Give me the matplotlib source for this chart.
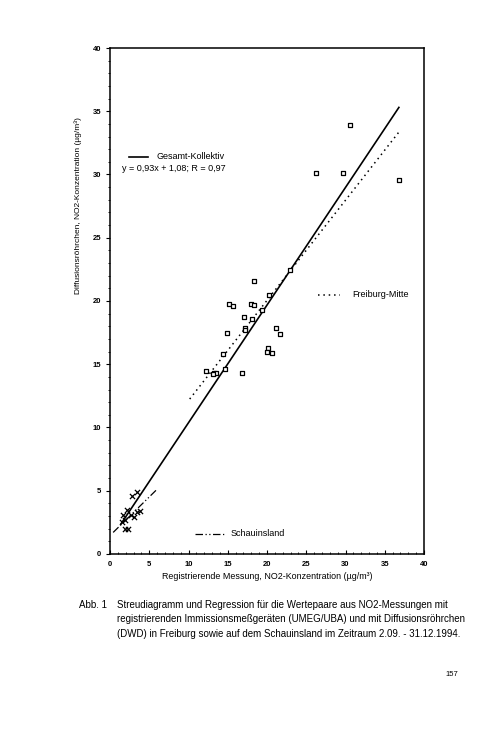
import numpy as np
import matplotlib
matplotlib.use("Agg")
import matplotlib.pyplot as plt
from matplotlib.ticker import MultipleLocator

plt.rcParams['font.family'] = ['Liberation Sans', 'DejaVu Sans']

# Freiburg-Mitte (squares)
fr_x = [15.2, 15.7, 18.0, 18.3, 20.2, 19.3, 17.1, 18.1, 17.2, 17.2, 14.9, 21.1, 21.7,
        20.1, 20.0, 20.6, 14.4, 12.2, 14.6, 13.2, 13.5, 13.1, 16.8, 18.4, 22.9,
        26.2, 29.7, 30.6, 36.8]
fr_y = [19.8, 19.6, 19.8, 19.7, 20.5, 19.3, 18.7, 18.6, 17.9, 17.7, 17.5, 17.9, 17.4,
        16.3, 16.0, 15.9, 15.8, 14.5, 14.6, 14.3, 14.3, 14.2, 14.3, 21.6, 22.45,
        30.1, 30.1, 33.9, 29.55]

# Schauinsland (crosses)
sch_x = [2.8, 3.5, 2.2, 1.65, 1.9, 1.5, 3.1, 3.8, 3.5, 1.9, 2.3, 2.7]
sch_y = [4.6, 4.9, 3.5, 3.1, 2.7, 2.55, 2.95, 3.4, 3.35, 1.95, 1.95, 3.1]

# regression lines: (slope, intercept, x range)
ges_fit = (0.93, 1.08, [1.4, 36.8])
fr_fit = (0.792, 4.21, [10.15, 36.8])
sch_fit = (0.61, 1.46, [0.4, 5.9])

fig = plt.figure(figsize=(5.04, 7.42), dpi=100)
ax = fig.add_axes([0.2183, 0.2534, 0.6230, 0.6819])

ax.scatter(fr_x, fr_y, marker='s', s=11, facecolors='white', edgecolors='black',
           linewidths=0.9, zorder=3)
ax.scatter(sch_x, sch_y, marker='x', s=14, color='black', linewidths=0.9, zorder=3)

def fitline(fit, **kw):
    m, b, xr = fit
    xs = np.array(xr)
    ax.plot(xs, m * xs + b, color='black', **kw)

fitline(ges_fit, lw=1.2)
fitline(fr_fit, lw=1.1, linestyle=(0, (1, 2.5)))
fitline(sch_fit, lw=0.9, linestyle=(0, (6, 2, 1, 2, 1, 2)))

# in-plot legend entries
ax.plot([2.4, 4.9], [31.4, 31.4], color='black', lw=1.2)
ax.text(5.9, 31.4, 'Gesamt-Kollektiv', fontsize=6.5, va='center')
ax.text(1.5, 30.5, 'y = 0,93x + 1,08; R = 0,97', fontsize=6.5, va='center')
ax.plot([26.5, 29.3], [20.5, 20.5], color='black', lw=1.1, linestyle=(0, (1, 2.5)))
ax.text(30.9, 20.5, 'Freiburg-Mitte', fontsize=6.5, va='center')
ax.plot([10.8, 14.6], [1.6, 1.6], color='black', lw=0.9, linestyle=(0, (6, 2, 1, 2, 1, 2)))
ax.text(15.3, 1.6, 'Schauinsland', fontsize=6.5, va='center')

ax.set_xlim(0, 40)
ax.set_ylim(0, 40)
ax.xaxis.set_major_locator(MultipleLocator(5))
ax.xaxis.set_minor_locator(MultipleLocator(1))
ax.yaxis.set_major_locator(MultipleLocator(5))
ax.yaxis.set_minor_locator(MultipleLocator(1))
ax.tick_params(axis='x', which='both', direction='in', labelsize=5.5, pad=5)
ax.tick_params(axis='y', which='both', direction='out', labelsize=5.5)
ax.tick_params(which='major', length=3, width=0.8)
ax.tick_params(which='minor', length=1.5, width=0.6)
for lab in ax.get_xticklabels() + ax.get_yticklabels():
    lab.set_fontweight('bold')
for s in ax.spines.values():
    s.set_linewidth(1.1)

ax.set_xlabel('Registrierende Messung, NO2-Konzentration (µg/m³)', fontsize=6.4, labelpad=3)
ax.set_ylabel('Diffusionsröhrchen, NO2-Konzentration (µg/m³)', fontsize=6.0)
ax.yaxis.set_label_coords(-0.089, 0.688)

# caption
fig.text(79 / 504, 1 - 605 / 742, 'Abb. 1', fontsize=7, va='center')
cap = ['Streudiagramm und Regression für die Wertepaare aus NO2-Messungen mit',
       'registrierenden Immissionsmeßgeräten (UMEG/UBA) und mit Diffusionsröhrchen',
       '(DWD) in Freiburg sowie auf dem Schauinsland im Zeitraum 2.09. - 31.12.1994.']
for i, line in enumerate(cap):
    fig.text(117 / 504, 1 - (605 + 14.5 * i) / 742, line, fontsize=7, va='center')
fig.text(452 / 504, 1 - 675 / 742, '157', fontsize=5.5, va='center', ha='center')

fig.savefig('out.png', dpi=100)
